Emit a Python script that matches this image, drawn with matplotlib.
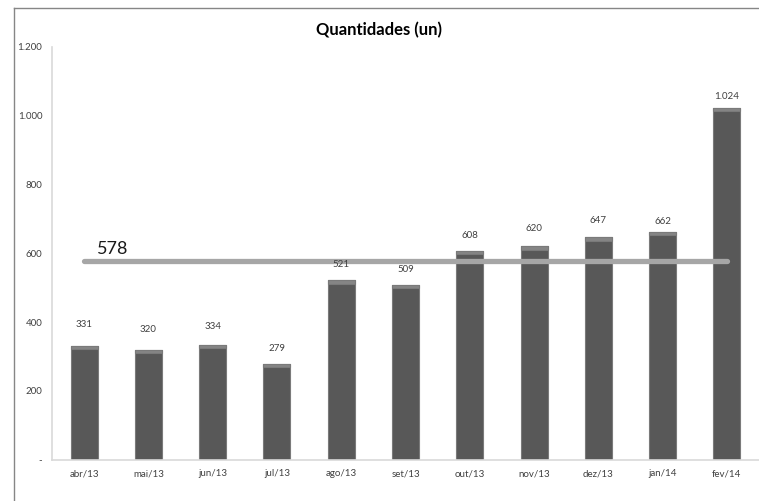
import numpy as np
import matplotlib.pyplot as plt
from matplotlib.lines import Line2D

plt.rcParams['font.family'] = ['Lato', 'DejaVu Sans']

meses = ['abr/13', 'mai/13', 'jun/13', 'jul/13', 'ago/13', 'set/13',
         'out/13', 'nov/13', 'dez/13', 'jan/14', 'fev/14']
quantidades = [331, 320, 334, 279, 521, 509, 608, 620, 647, 662, 1024]
media = 578
y_ticks = [0, 200, 400, 600, 800, 1000, 1200]
y_tick_labels = ['-', '200', '400', '600', '800', '1.000', '1.200']

# label distance above each bar, in pixels (as in the original layout)
label_gap_px = [21, 20, 18, 15, 16, 15, 15, 18, 17, 10, 11]


def fmt(v):
    return '{:,}'.format(v).replace(',', '.')


fig = plt.figure(figsize=(7.59, 5.01), dpi=100)
ax = fig.add_axes([52 / 759, 1 - 459.5 / 501, 707 / 759, 412.5 / 501])

x = np.arange(len(meses))
ax.bar(x, quantidades, width=0.42, color='#585858', edgecolor='#7a7a7a',
       linewidth=0.8, zorder=2)
# lighter bevel on top of each bar
cap = 10
ax.bar(x, [cap] * len(x), bottom=[v - cap for v in quantidades], width=0.42,
       color='#858585', edgecolor='#7a7a7a', linewidth=0.8, zorder=2)

for xi, v, gap in zip(x, quantidades, label_gap_px):
    ax.annotate(fmt(v), (xi, v), xytext=(0, gap * 0.72), textcoords='offset points',
                ha='center', va='center', fontsize=7, color='#404040', zorder=5)

ax.plot([x[0], x[-1]], [media, media], color='#a6a6a6', linewidth=3.8,
        solid_capstyle='round', zorder=3)
ax.annotate(str(media), (0.2, media), xytext=(0, 3), textcoords='offset points',
            ha='left', va='bottom', fontsize=13, color='#1a1a1a')

ax.set_xlim(-0.5, len(meses) - 0.5)
ax.set_ylim(0, 1200)
ax.set_yticks(y_ticks)
ax.set_yticklabels(y_tick_labels)
ax.set_xticks(x)
ax.set_xticklabels(meses)
ax.tick_params(axis='both', length=0, labelsize=7, colors='#404040')
ax.tick_params(axis='x', pad=7)
ax.tick_params(axis='y', pad=7)

for s in ['top', 'right']:
    ax.spines[s].set_visible(False)
for s in ['left', 'bottom']:
    ax.spines[s].set_color('#d9d9d9')
    ax.spines[s].set_linewidth(1.2)

fig.text(0.5, 1 - 30 / 501, 'Quantidades (un)', ha='center', va='center',
         fontsize=12, fontweight='bold', color='#000000')

# outer chart frame (only left and top visible)
fx, fy = 14.5 / 759, 1 - 7.5 / 501
fig.add_artist(Line2D([fx, fx], [0, fy], color='#868686', linewidth=1))
fig.add_artist(Line2D([fx, 1], [fy, fy], color='#868686', linewidth=1))

fig.savefig('out.png', dpi=100)
